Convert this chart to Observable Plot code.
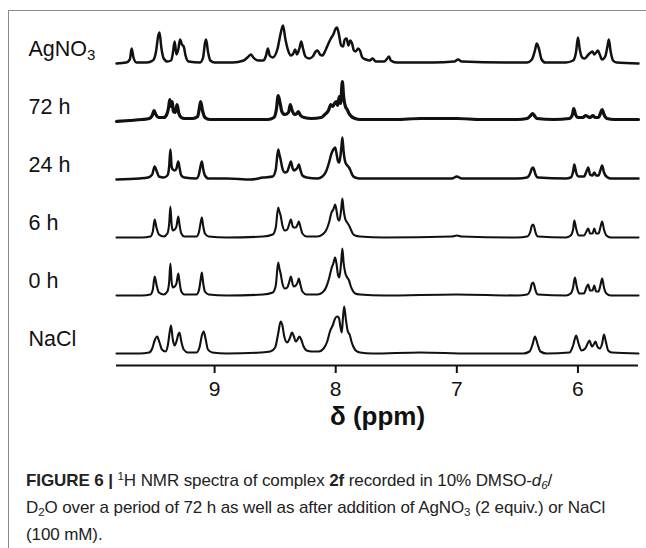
<!DOCTYPE html>
<html><head><meta charset="utf-8">
<script src="https://cdn.jsdelivr.net/npm/d3@7"></script>
<script src="https://cdn.jsdelivr.net/npm/@observablehq/plot@0.6"></script>
<style>
body{margin:0;background:#fff;width:646px;height:548px;overflow:hidden;position:relative;font-family:"Liberation Sans",Arial,sans-serif}
#frame{position:absolute;left:8px;top:10px;width:640px;height:540px;border-left:1.5px solid #8a8a8a;border-top:1.5px solid #8a8a8a}
#chart{position:absolute;left:0;top:0}
#caption{position:absolute;left:26px;top:467px;font-size:17px;line-height:27px;letter-spacing:-0.1px;white-space:nowrap;color:#222}
#caption sub,#caption sup{font-size:0.68em;vertical-align:baseline;position:relative;line-height:0}
#caption sup{top:-0.55em}
#caption sub{top:0.3em}
</style></head><body>
<div id="frame"></div>
<div id="chart"></div>
<div id="caption"><b>FIGURE 6 |</b> <sup>1</sup>H NMR spectra of complex <b>2f</b> recorded in 10% DMSO-<i>d</i><sub><i>6</i></sub>/<br>D<sub>2</sub>O over a period of 72 h as well as after addition of AgNO<sub>3</sub> (2 equiv.) or NaCl<br>(100 mM).</div>
<script>
const labels = ["NaCl","0 h","6 h","24 h","72 h","AgNO3"];
const xTicks = [9,8,7,6];
const xLabel = "δ (ppm)";

const nacl = [[9.81,0],[9.62,0],[9.54,1],[9.515,5],[9.495,13],[9.475,17],[9.455,11],[9.435,4],[9.405,2],[9.385,9],[9.37,22],[9.36,28],[9.345,14],[9.33,8],[9.315,12],[9.30,19],[9.29,21],[9.275,12],[9.255,4],[9.22,1],[9.15,1],[9.125,6],[9.105,18],[9.09,22],[9.075,15],[9.055,4],[9.02,1],[8.90,0],[8.62,1],[8.54,2],[8.50,6],[8.475,20],[8.455,32],[8.44,28],[8.425,17],[8.40,11],[8.38,15],[8.36,21],[8.345,17],[8.33,12],[8.315,14],[8.30,17],[8.285,14],[8.265,7],[8.24,3],[8.20,2],[8.14,2],[8.10,5],[8.07,12],[8.045,23],[8.025,28],[8.005,35],[7.99,37],[7.975,36],[7.96,26],[7.95,21],[7.94,36],[7.93,47],[7.915,33],[7.90,22],[7.885,19],[7.87,12],[7.855,7],[7.835,3],[7.80,1],[7.70,0],[7.30,1],[6.90,0],[6.45,0],[6.40,2],[6.375,9],[6.355,17],[6.335,10],[6.31,2],[6.26,0],[6.07,1],[6.04,8],[6.015,18],[5.995,10],[5.97,3],[5.94,5],[5.92,10],[5.905,13],[5.885,7],[5.87,9],[5.855,12],[5.84,7],[5.82,5],[5.80,10],[5.785,19],[5.77,12],[5.75,3],[5.72,1],[5.5,0]];

const h0 = [[9.81,0],[9.60,0],[9.53,1],[9.51,6],[9.495,19],[9.48,11],[9.46,3],[9.42,1],[9.39,4],[9.375,14],[9.365,32],[9.355,14],[9.345,8],[9.33,9],[9.315,12],[9.30,22],[9.29,14],[9.275,4],[9.25,1],[9.15,1],[9.13,5],[9.115,16],[9.105,23],[9.095,13],[9.08,4],[9.05,1],[8.90,0],[8.60,1],[8.52,3],[8.495,10],[8.475,33],[8.465,27],[8.455,22],[8.44,12],[8.42,7],[8.40,8],[8.385,13],[8.37,19],[8.355,11],[8.345,9],[8.33,10],[8.315,13],[8.305,17],[8.29,10],[8.275,4],[8.24,1],[8.15,1],[8.11,3],[8.08,8],[8.055,17],[8.035,27],[8.02,32],[8.005,38],[7.995,33],[7.98,20],[7.97,18],[7.955,33],[7.945,47],[7.935,33],[7.92,22],[7.905,18],[7.89,15],[7.875,9],[7.86,5],[7.84,2],[7.80,1],[7.60,0],[7.00,1],[6.50,0],[6.42,1],[6.395,5],[6.38,12],[6.37,13],[6.36,10],[6.35,5],[6.33,1],[6.10,0],[6.06,2],[6.04,8],[6.025,18],[6.01,9],[5.99,2],[5.95,2],[5.93,8],[5.915,11],[5.90,5],[5.88,5],[5.865,10],[5.85,4],[5.83,4],[5.815,10],[5.80,17],[5.785,8],[5.765,2],[5.73,0],[5.5,0]];

const h6 = [[9.81,0],[9.60,0],[9.53,1],[9.51,6],[9.495,18],[9.48,10],[9.46,3],[9.42,1],[9.39,4],[9.375,14],[9.365,31],[9.355,13],[9.345,7],[9.33,8],[9.315,11],[9.30,21],[9.29,13],[9.275,4],[9.25,1],[9.15,1],[9.13,5],[9.115,15],[9.105,20],[9.095,12],[9.08,4],[9.05,1],[8.90,0],[8.60,1],[8.52,3],[8.495,10],[8.475,30],[8.465,26],[8.455,22],[8.44,12],[8.42,7],[8.40,8],[8.385,13],[8.37,18],[8.355,11],[8.345,10],[8.33,10],[8.315,13],[8.305,16],[8.29,10],[8.275,4],[8.24,1],[8.15,1],[8.11,3],[8.08,7],[8.055,15],[8.035,25],[8.02,28],[8.005,33],[7.995,28],[7.98,18],[7.97,17],[7.955,28],[7.945,39],[7.935,28],[7.92,18],[7.905,15],[7.89,12],[7.875,8],[7.86,4],[7.84,2],[7.80,1],[7.60,0],[7.04,1],[7.00,2],[6.96,1],[6.50,0],[6.42,1],[6.395,5],[6.38,12],[6.37,13],[6.36,10],[6.35,5],[6.33,1],[6.10,0],[6.06,2],[6.04,8],[6.03,17],[6.015,9],[5.995,2],[5.95,2],[5.93,6],[5.915,9],[5.90,4],[5.88,4],[5.865,9],[5.85,4],[5.83,4],[5.815,10],[5.80,16],[5.785,8],[5.765,2],[5.73,0],[5.5,0]];

const h24 = [[9.81,0],[9.62,1],[9.55,2],[9.515,5],[9.495,13],[9.48,9],[9.46,3],[9.42,2],[9.39,4],[9.375,13],[9.365,30],[9.355,13],[9.345,10],[9.33,9],[9.315,11],[9.30,18],[9.29,12],[9.275,4],[9.25,2],[9.15,1],[9.13,5],[9.115,14],[9.105,18],[9.095,11],[9.08,4],[9.05,1],[8.90,1],[8.70,0],[8.60,2],[8.52,3],[8.495,10],[8.475,30],[8.465,25],[8.455,20],[8.44,11],[8.42,7],[8.40,8],[8.385,13],[8.37,18],[8.355,11],[8.345,9],[8.33,10],[8.315,12],[8.305,15],[8.29,9],[8.275,4],[8.24,2],[8.15,1],[8.11,3],[8.08,8],[8.055,17],[8.035,26],[8.02,30],[8.005,32],[7.995,27],[7.98,18],[7.97,17],[7.955,30],[7.945,42],[7.935,28],[7.92,17],[7.905,14],[7.89,12],[7.875,8],[7.86,4],[7.84,2],[7.80,1],[7.50,1],[7.04,1],[7.00,3],[6.96,1],[6.50,1],[6.42,2],[6.395,6],[6.38,11],[6.37,12],[6.36,9],[6.35,5],[6.33,2],[6.10,1],[6.06,2],[6.04,8],[6.03,15],[6.015,7],[5.995,3],[5.95,3],[5.93,8],[5.915,12],[5.90,5],[5.88,4],[5.865,7],[5.85,4],[5.83,4],[5.815,9],[5.80,14],[5.785,7],[5.765,3],[5.73,1],[5.5,1]];

const h72 = [[9.81,0],[9.70,1],[9.60,2],[9.54,3],[9.515,6],[9.50,11],[9.485,7],[9.46,4],[9.42,4],[9.395,7],[9.38,14],[9.37,22],[9.36,15],[9.35,20],[9.34,10],[9.325,9],[9.31,17],[9.295,8],[9.275,4],[9.25,3],[9.18,3],[9.14,5],[9.125,14],[9.115,20],[9.10,11],[9.08,4],[9.04,2],[8.90,2],[8.70,2],[8.56,2],[8.51,4],[8.49,12],[8.475,26],[8.46,19],[8.445,10],[8.42,7],[8.39,9],[8.375,17],[8.36,11],[8.34,7],[8.32,8],[8.31,10],[8.29,6],[8.26,4],[8.20,3],[8.12,4],[8.09,7],[8.06,11],[8.04,17],[8.025,15],[8.01,18],[7.995,20],[7.985,16],[7.97,25],[7.96,18],[7.945,40],[7.935,25],[7.92,15],[7.905,12],[7.89,8],[7.87,5],[7.84,3],[7.80,2],[7.50,2],[7.30,3],[7.00,3],[6.80,2],[6.50,2],[6.42,3],[6.39,6],[6.375,8],[6.36,6],[6.34,3],[6.20,2],[6.07,3],[6.045,7],[6.035,13],[6.02,7],[6.00,4],[5.96,4],[5.935,6],[5.92,5],[5.90,4],[5.875,6],[5.86,4],[5.83,4],[5.815,8],[5.80,12],[5.785,7],[5.76,3],[5.70,2],[5.5,2]];

const agno3 = [[9.81,0],[9.73,1],[9.70,4],[9.685,15],[9.67,6],[9.645,1],[9.56,1],[9.51,3],[9.485,11],[9.465,28],[9.455,31],[9.44,16],[9.42,5],[9.39,2],[9.36,3],[9.345,10],[9.33,22],[9.315,9],[9.30,14],[9.285,24],[9.27,19],[9.255,17],[9.24,8],[9.215,2],[9.12,1],[9.095,6],[9.08,20],[9.07,24],[9.055,12],[9.035,3],[9.00,1],[8.85,1],[8.76,3],[8.72,7],[8.70,9],[8.68,6],[8.64,3],[8.60,3],[8.575,8],[8.56,15],[8.545,8],[8.52,6],[8.48,15],[8.455,30],[8.435,38],[8.415,24],[8.39,12],[8.37,8],[8.35,10],[8.335,14],[8.32,9],[8.30,15],[8.285,22],[8.27,15],[8.25,7],[8.22,5],[8.19,7],[8.165,12],[8.15,13],[8.13,9],[8.11,8],[8.085,13],[8.06,20],[8.04,25],[8.02,29],[8.00,35],[7.99,36],[7.975,30],[7.955,18],[7.94,17],[7.925,24],[7.91,25],[7.895,18],[7.88,23],[7.865,20],[7.85,13],[7.835,12],[7.815,15],[7.80,13],[7.78,6],[7.75,4],[7.72,3],[7.695,5],[7.67,2],[7.60,2],[7.575,5],[7.56,7],[7.545,3],[7.50,1],[7.20,1],[7.02,2],[6.99,4],[6.96,2],[6.60,1],[6.42,1],[6.38,4],[6.355,13],[6.34,20],[6.325,16],[6.30,4],[6.27,1],[6.10,1],[6.04,3],[6.015,12],[6.00,26],[5.985,14],[5.965,6],[5.945,5],[5.92,8],[5.895,11],[5.88,12],[5.865,9],[5.85,11],[5.835,13],[5.82,9],[5.80,4],[5.775,7],[5.755,18],[5.745,24],[5.73,12],[5.71,3],[5.68,1],[5.5,0]];

const spectra = [nacl, h0, h6, h24, h72, agno3];

// layout constants (styling, not data)
const base = 12, step = 58;
const widths = [2.1, 2.1, 2.1, 2.5, 3.2, 2.5];

const lineMarks = spectra.map((s, i) =>
  Plot.lineY(s.map(([ppm, v]) => ({ppm, y: base + step * i + v})), {
    x: "ppm", y: "y", curve: "monotone-x", stroke: "#111", strokeWidth: widths[i], strokeLinejoin: "round"
  })
);
const labelRows = labels.map((label, i) => ({label, y: base + step * i + 8}));

const plot = Plot.plot({
  width: 646, height: 450,
  marginLeft: 116, marginRight: 8, marginTop: 5, marginBottom: 85,
  style: {fontFamily: "'Liberation Sans', Arial, sans-serif", color: "#111", background: "transparent", overflow: "visible"},
  x: {domain: [9.81, 5.5]},
  y: {domain: [0, 360], axis: null},
  marks: [
    ...lineMarks,
    Plot.ruleY([0], {stroke: "#111", strokeWidth: 2}),
    Plot.axisX({ticks: xTicks, tickSize: 8, tickPadding: 8, fontSize: 21, strokeWidth: 2, label: null, tickFormat: d => String(d)}),
    Plot.text([xLabel], {frameAnchor: "bottom", lineAnchor: "top", dy: 41, dx: 0, fontSize: 26, fontWeight: "bold"}),
    Plot.text(labelRows, {y: "y", text: "label", frameAnchor: "left", textAnchor: "start", lineAnchor: "bottom", dx: -88, fontSize: 21.5})
  ]
});
document.getElementById("chart").appendChild(plot);
d3.select(plot).selectAll("text").filter(function(){ return this.textContent === "AgNO3"; }).each(function(){
  const t = d3.select(this);
  t.text("AgNO");
  t.append("tspan").attr("font-size", "0.7em").attr("dy", "0.3em").text("3");
});
</script>
</body></html>
